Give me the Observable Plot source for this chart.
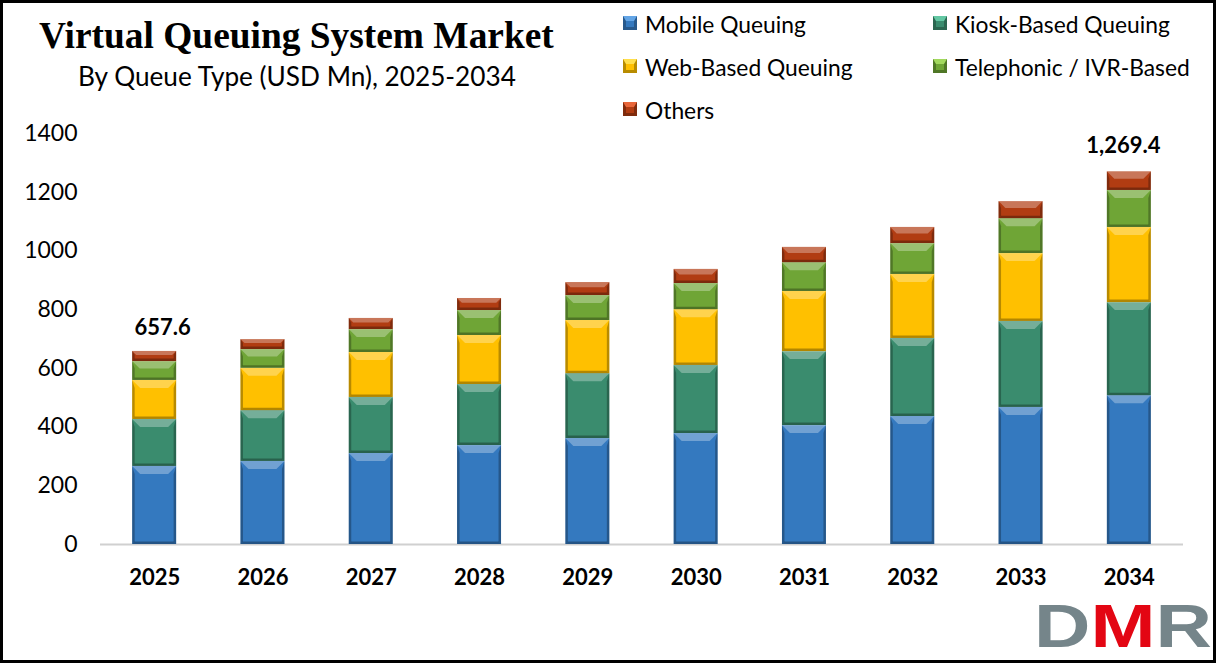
<!DOCTYPE html>
<html>
<head>
<meta charset="utf-8">
<script src="https://cdn.jsdelivr.net/npm/d3@7"></script>
<script src="https://cdn.jsdelivr.net/npm/@observablehq/plot@0.6"></script>
<style>
  html, body { margin: 0; padding: 0; background: #fff; }
  #page { position: relative; width: 1216px; height: 663px; overflow: hidden; font-family: Lato, sans-serif; color: #000; }
  #frame { position: absolute; inset: 0; border: 3px solid #000; box-sizing: border-box; pointer-events: none; }
  #chart { position: absolute; left: 0; top: 0; }
  #title { position: absolute; left: 39px; top: 14px; font: bold 37.4px "Liberation Serif", serif; white-space: nowrap; }
  #subtitle { position: absolute; left: 78px; top: 60px; font-size: 26.2px; white-space: nowrap; }
  .key { position: absolute; font-size: 22.8px; white-space: nowrap; line-height: 28px; }
  .swatch { position: absolute; left: -22px; top: 6px; width: 8px; height: 6px; border-style: solid; border-width: 5px 3px 3px 3px; }
  #logo { position: absolute; left: 1034px; top: 591px; font: bold 62px "Liberation Sans", sans-serif; line-height: 69px; color: #75858a; white-space: nowrap; transform: scaleX(1.26); transform-origin: left top; }
  #logo span { color: #e30613; }
</style>
</head>
<body>
<div id="page">
  <div id="chart"></div>
  <div id="title">Virtual Queuing System Market</div>
  <div id="subtitle">By Queue Type (USD Mn), 2025-2034</div>
  <div id="legend"></div>
  <div id="logo">D<span>M</span>R</div>
  <div id="frame"></div>
</div>
<script>
const years = ["2025", "2026", "2027", "2028", "2029", "2030", "2031", "2032", "2033", "2034"];
const seriesNames = ["Mobile Queuing", "Kiosk-Based Queuing", "Web-Based Queuing", "Telephonic / IVR-Based", "Others"];

const mobile = [266, 283, 310, 337, 361, 378, 405, 436, 467, 507];
const kiosk = [160, 173, 191, 208, 221, 232, 252, 266, 293, 317];
const web = [133, 144, 153, 167, 181, 190, 205, 218, 231, 256];
const telephonic = [64, 64, 78, 85, 85, 89, 98, 105, 119, 126];
const others = [34.6, 34, 38, 41, 44, 48, 52, 55, 58, 63.4];

const seriesValues = [mobile, kiosk, web, telephonic, others];
const colors = ["#3479bf", "#3a8c6e", "#ffc000", "#6fa536", "#b13c12"];
const lights = ["#63a5e6", "#63c7a3", "#ffdf4d", "#a2d85e", "#e8663a"];
const darks = ["#27598c", "#2b6650", "#b88c00", "#4f7726", "#7f2b0d"];

const firstTotal = [{year: "2025", total: 657.6, label: "657.6"}];
const lastTotal = [{year: "2034", total: 1269.4, label: "1,269.4"}];
const yTicks = [0, 200, 400, 600, 800, 1000, 1200, 1400];

const rows = seriesNames.flatMap((name, s) => years.map((year, i) => ({year, name, value: seriesValues[s][i]})));

// adds the bevelled edges on top of every bar segment
function bevel(index, scales, values, dimensions, context, next) {
  const g = next(index, scales, values, dimensions, context);
  d3.select(g).selectAll("rect").each(function() {
    const x = +this.getAttribute("x"), y = +this.getAttribute("y");
    const w = +this.getAttribute("width"), h = +this.getAttribute("height");
    const d = Math.min(8, h * 0.4);
    const poly = (points, fill, opacity) => {
      const p = document.createElementNS("http://www.w3.org/2000/svg", "polygon");
      p.setAttribute("points", points.map(q => q.join(",")).join(" "));
      p.setAttribute("fill", fill);
      p.setAttribute("fill-opacity", opacity);
      g.appendChild(p);
    };
    poly([[x, y], [x + w, y], [x + w - d, y + d], [x + d, y + d]], "#fff", 0.3);
    poly([[x, y], [x + 2.5, y + d], [x + 2.5, y + h - 2.5], [x, y + h]], "#000", 0.28);
    poly([[x + w, y], [x + w - 2.5, y + d], [x + w - 2.5, y + h - 2.5], [x + w, y + h]], "#000", 0.28);
    poly([[x, y + h], [x + 2.5, y + h - 2.5], [x + w - 2.5, y + h - 2.5], [x + w, y + h]], "#000", 0.3);
  });
  return g;
}

const chart = Plot.plot({
  width: 1216,
  height: 663,
  marginLeft: 100,
  marginRight: 33,
  marginTop: 133,
  marginBottom: 119,
  style: {background: "transparent", fontFamily: "Lato, sans-serif", color: "#000"},
  x: {domain: years, paddingInner: 0.594, paddingOuter: 0.297, round: false, label: null},
  y: {domain: [0, 1400], label: null},
  color: {domain: seriesNames, range: colors},
  marks: [
    Plot.ruleY([0], {stroke: "#d0d0d0", strokeWidth: 2}),
    Plot.barY(rows, Plot.stackY({x: "year", y: "value", fill: "name", order: seriesNames, render: bevel})),
    Plot.axisY({ticks: yTicks, tickSize: 0, tickPadding: 0, dx: -23, fontSize: 23, tickFormat: d => String(d), label: null}),
    Plot.axisX({tickSize: 0, tickPadding: 25, fontSize: 22, fontWeight: "bold", label: null}),
    Plot.text(firstTotal, {x: "year", y: "total", text: "label", dx: 8, dy: -23, fontSize: 22, fontWeight: "bold", fill: "#000"}),
    Plot.text(lastTotal, {x: "year", y: "total", text: "label", dx: -6, dy: -26, fontSize: 22, fontWeight: "bold", fill: "#000"})
  ]
});
document.getElementById("chart").append(chart);

// legend
const legendSpots = [[645, 10], [955, 10], [645, 53], [955, 53], [645, 96]];
const legend = document.getElementById("legend");
seriesNames.forEach((name, s) => {
  const key = document.createElement("div");
  key.className = "key";
  key.style.left = legendSpots[s][0] + "px";
  key.style.top = legendSpots[s][1] + "px";
  key.textContent = name;
  const swatch = document.createElement("div");
  swatch.className = "swatch";
  swatch.style.background = colors[s];
  swatch.style.borderColor = `${lights[s]} ${darks[s]} ${darks[s]} ${darks[s]}`;
  key.append(swatch);
  legend.append(key);
});
</script>
</body>
</html>
